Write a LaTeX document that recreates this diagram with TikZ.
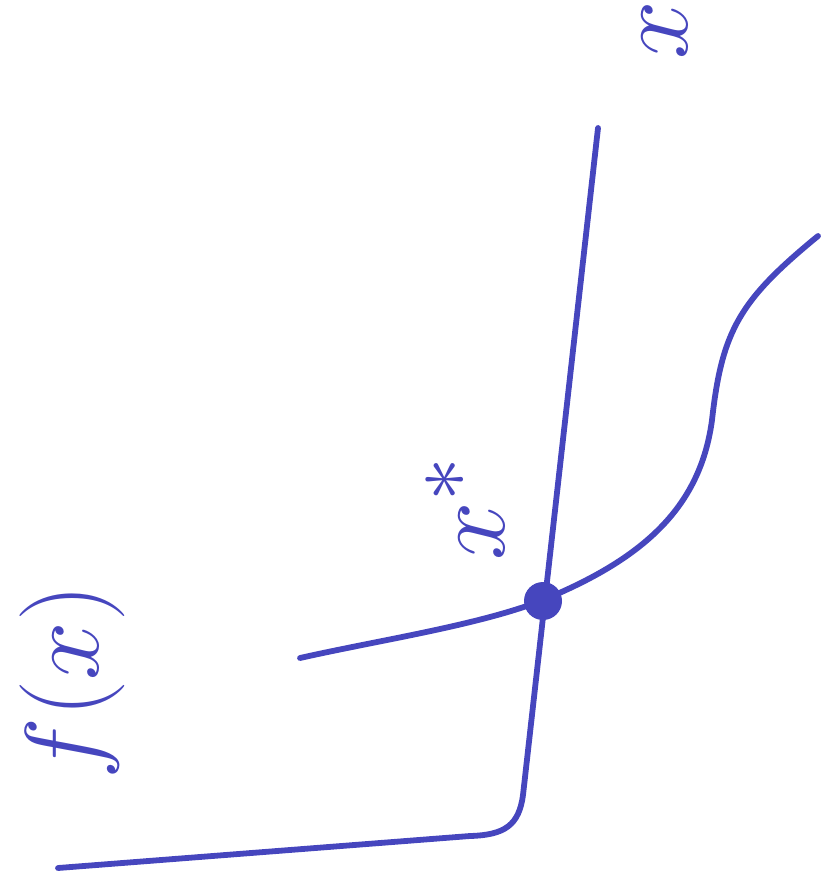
\documentclass[tikz,border=0pt]{standalone}
\usepackage{xcolor}
\definecolor{pen}{HTML}{4646BE}

\begin{document}
\begin{tikzpicture}[
    x=0.02cm, y=-0.02cm,
    ink/.style={draw=pen, line width=3.3pt, line cap=round, line join=round},
    lbl/.style={text=pen, font=\Huge, scale=2.4, rotate=90, inner sep=0pt}
]
\useasboundingbox (0,0) rectangle (825,891);

% vertical axis, bending into the horizontal one
\draw [ink] (598,128) -- (523,795) .. controls (519,825) and (505,835) .. (470,836) -- (58,868);

% the curve
\draw [ink] (300,658) .. controls (380,640) and (480,625) .. (543,600)
    .. controls (640,560) and (700,510) .. (712,420)
    .. controls (722,330) and (740,300) .. (818,236);

% the point on it
\fill [pen] (543,601) circle (19);

% labels
\node [lbl] (fx) at (72,682) {$f(x)$};
\node [lbl] (xaxis) at (665,30) {$x$};
\node [lbl] (xstar) at (465,508) {$x^{*}$};

\end{tikzpicture}
\end{document}
